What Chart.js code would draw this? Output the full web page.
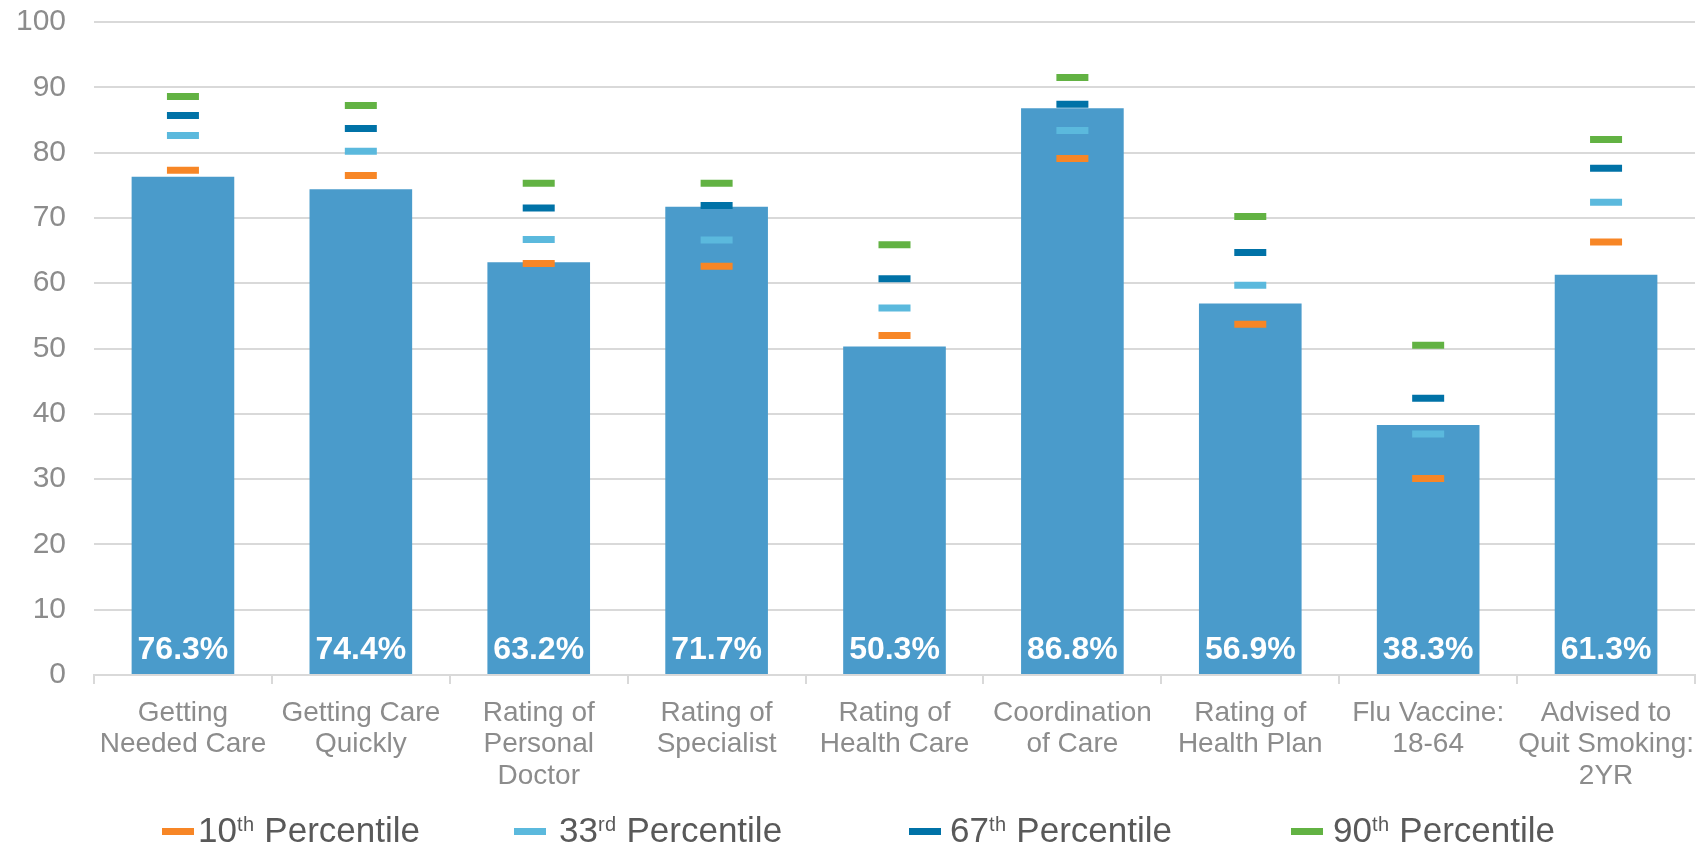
<!DOCTYPE html>
<html>
<head>
<meta charset="utf-8">
<script src="https://cdn.jsdelivr.net/npm/chart.js@4"></script>
<style>
  html, body { margin: 0; padding: 0; background: #fff; }
  #wrap { position: relative; width: 1696px; height: 848px; overflow: hidden; }
  #c { position: absolute; left: 0; top: 0; }
  .leg { position: absolute; top: 810px; white-space: nowrap;
         font: 35px/40px "Liberation Sans", Arial, sans-serif; color: #595959; }
  .dash { display: inline-block; width: 32px; height: 7px; vertical-align: 7.5px; }
  .leg sup { font-size: 20px; vertical-align: 11px; line-height: 0; letter-spacing: 0.5px; }
</style>
</head>
<body>
<div id="wrap">
  <canvas id="c" width="1696" height="848"></canvas>
  <div id="legend"></div>
</div>
<script>
const categories = [
  ["Getting", "Needed Care"],
  ["Getting Care", "Quickly"],
  ["Rating of", "Personal", "Doctor"],
  ["Rating of", "Specialist"],
  ["Rating of", "Health Care"],
  ["Coordination", "of Care"],
  ["Rating of", "Health Plan"],
  ["Flu Vaccine:", "18-64"],
  ["Advised to", "Quit Smoking:", "2YR"]
];
const rates = [76.3, 74.4, 63.2, 71.7, 50.3, 86.8, 56.9, 38.3, 61.3];
const p10 = [77.3, 76.5, 63.0, 62.6, 52.0, 79.1, 53.7, 30.1, 66.3];
const p33 = [82.6, 80.2, 66.7, 66.6, 56.2, 83.4, 59.7, 36.9, 72.4];
const p67 = [85.7, 83.7, 71.5, 71.9, 60.7, 87.4, 64.7, 42.4, 77.6];
const p90 = [88.6, 87.2, 75.3, 75.3, 65.9, 91.5, 70.2, 50.5, 82.0];
const legendNums = ["10", "33", "67", "90"];
const legendSups = ["th", "rd", "th", "th"];
const legendWord = "Percentile";
const yTicks = [0, 10, 20, 30, 40, 50, 60, 70, 80, 90, 100];

const FONT = '"Liberation Sans", Arial, sans-serif';
const barColor = '#4A9BCB';
const pctColors = ['#F78626', '#5BB9DD', '#0072A7', '#62B243'];
const pctData = [p10, p33, p67, p90];

function markerDataset(data, color, i) {
  return {
    type: 'line',
    label: legendNums[i] + legendSups[i] + ' ' + legendWord,
    data: data,
    showLine: false,
    borderColor: color,
    backgroundColor: color,
    pointStyle: 'line',
    pointRadius: 16,
    pointHoverRadius: 16,
    pointBorderWidth: 7,
    pointHoverBorderWidth: 7,
    order: 3 - i
  };
}

const barLabels = {
  id: 'barLabels',
  afterDatasetsDraw(chart) {
    const meta = chart.getDatasetMeta(0);
    const ctx = chart.ctx;
    ctx.save();
    ctx.font = 'bold 32px ' + FONT;
    ctx.fillStyle = '#ffffff';
    ctx.textAlign = 'center';
    ctx.textBaseline = 'alphabetic';
    meta.data.forEach((el, i) => {
      ctx.fillText(rates[i].toFixed(1) + '%', el.x, chart.chartArea.bottom - 16);
    });
    ctx.restore();
  }
};

new Chart(document.getElementById('c'), {
  type: 'bar',
  data: {
    labels: categories,
    datasets: [
      {
        label: 'Rate',
        data: rates,
        backgroundColor: barColor,
        borderWidth: 0,
        categoryPercentage: 1,
        barPercentage: 0.577,
        order: 10
      },
      ...pctData.map((d, i) => markerDataset(d, pctColors[i], i))
    ]
  },
  options: {
    responsive: false,
    devicePixelRatio: 1,
    animation: false,
    events: [],
    layout: { autoPadding: false, padding: { top: 22, left: 0, right: 1, bottom: 0 } },
    plugins: { legend: { display: false }, tooltip: { enabled: false } },
    scales: {
      x: {
        offset: true,
        grid: {
          offset: true,
          drawOnChartArea: false,
          drawTicks: true,
          tickLength: 9,
          color: '#D9D9D9',
          lineWidth: 2
        },
        border: { display: true, color: '#D9D9D9', width: 2 },
        ticks: {
          color: '#8C8C8C',
          font: { family: FONT, size: 28, lineHeight: 1.13 },
          padding: 13,
          maxRotation: 0,
          autoSkip: false
        },
        afterFit(scale) {
          scale.height = 173;
          scale.paddingLeft = 0;
          scale.paddingRight = 0;
        }
      },
      y: {
        min: 0,
        max: 100,
        afterBuildTicks(scale) { scale.ticks = yTicks.map(v => ({ value: v })); },
        grid: { color: '#D9D9D9', lineWidth: 2, drawTicks: false },
        border: { display: false },
        ticks: {
          color: '#8C8C8C',
          font: { family: FONT, size: 30 },
          padding: 28
        },
        afterFit(scale) {
          scale.width = 94;
          scale.paddingTop = 0;
          scale.paddingBottom = 0;
        }
      }
    }
  },
  plugins: [barLabels]
});

// HTML legend (real text with superscripts)
const legendLefts = [162, 514, 909, 1291];
const legendGaps = [4, 13, 9, 10];
const legend = document.getElementById('legend');
legendNums.forEach((n, i) => {
  const item = document.createElement('div');
  item.className = 'leg';
  item.style.left = legendLefts[i] + 'px';
  const dash = document.createElement('span');
  dash.className = 'dash';
  dash.style.background = pctColors[i];
  dash.style.marginRight = legendGaps[i] + 'px';
  item.appendChild(dash);
  item.appendChild(document.createTextNode(n));
  const sup = document.createElement('sup');
  sup.textContent = legendSups[i];
  item.appendChild(sup);
  item.appendChild(document.createTextNode(' ' + legendWord));
  legend.appendChild(item);
});
</script>
</body>
</html>
